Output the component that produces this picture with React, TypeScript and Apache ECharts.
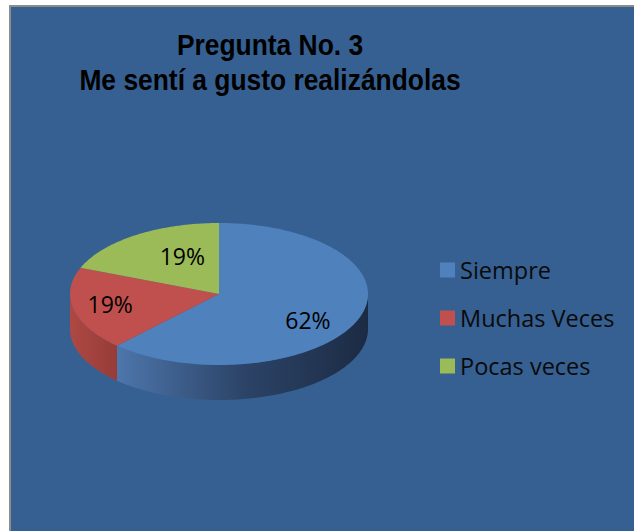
import React, { useEffect, useRef } from "react";
import * as echarts from "echarts";

const titleLines = ["Pregunta No. 3", "Me sentí a gusto realizándolas"];
const categories = ["Siempre", "Muchas Veces", "Pocas veces"];
const values = [62, 19, 19];

const topColors = ["#4F81BD", "#C0504D", "#9BBB59"];
const sideColors = [
  ["#4d76ab", "#2c4468", "#1c2b44"],
  ["#ae4843", "#a2423e", "#963c38"],
  ["#7d9a45", "#6f893c", "#627a35"],
];
// pixel nudges applied to the default label anchor of each slice
const labelNudge = [
  [-8, 8],
  [-7, -1],
  [22, 3],
];

const CX = 219;
const CY = 294;
const RX = 149;
const RY = 71;
const DEPTH = 35;

const total = values.reduce((a, b) => a + b, 0);

function pt(t: number, dz = 0): number[] {
  return [CX + RX * Math.sin(t), CY - RY * Math.cos(t) + dz];
}

function arc(a: number, b: number, dz = 0): number[][] {
  const pts: number[][] = [];
  const n = Math.max(2, Math.ceil(Math.abs(b - a) / (Math.PI / 180)));
  for (let i = 0; i <= n; i++) {
    pts.push(pt(a + ((b - a) * i) / n, dz));
  }
  return pts;
}

function makeRender(idx: number) {
  return (params: any, api: any) => {
    let acc = 0;
    for (let j = 0; j < idx; j++) acc += values[j];
    const v = api.value(0);
    const a0 = (acc / total) * Math.PI * 2;
    const a1 = ((acc + v) / total) * Math.PI * 2;
    const children: any[] = [];
    const s = Math.max(a0, Math.PI / 2);
    const e = Math.min(a1, (Math.PI * 3) / 2);
    if (e > s) {
      const pts = arc(s, e).concat(arc(e, s, DEPTH));
      const sc = sideColors[idx];
      children.push({
        type: "polygon",
        z2: 1,
        shape: { points: pts },
        style: {
          fill: new echarts.graphic.LinearGradient(1, 0, 0, 0, [
            { offset: 0, color: sc[2] },
            { offset: 0.5, color: sc[1] },
            { offset: 1, color: sc[0] },
          ]),
          stroke: null,
        },
      });
    }
    const topPts = [[CX, CY]].concat(arc(a0, a1));
    children.push({
      type: "polygon",
      z2: 2,
      shape: { points: topPts },
      style: { fill: topColors[idx], stroke: null },
    });
    const mid = (a0 + a1) / 2;
    const lp = [CX + 0.7 * RX * Math.sin(mid), CY - 0.7 * RY * Math.cos(mid)];
    children.push({
      type: "text",
      z2: 3,
      style: {
        text: Math.round((v / total) * 100) + "%",
        x: lp[0] + labelNudge[idx][0],
        y: lp[1] + labelNudge[idx][1],
        fill: "#000000",
        font: '23px "Open Sans"',
        align: "center",
        verticalAlign: "middle",
      },
    });
    return { type: "group", children };
  };
}

export default function App() {
  const ref = useRef<HTMLDivElement>(null);
  useEffect(() => {
    if (!ref.current) return;
    const chart = echarts.init(ref.current, undefined, { renderer: "svg" });
    chart.setOption({
      animation: false,
      backgroundColor: "#ffffff",
      color: topColors,
      graphic: [
        {
          type: "rect",
          z: -10,
          silent: true,
          shape: { x: 10, y: 6, width: 640, height: 540 },
          style: { fill: "#366092", stroke: "#8c8c8c", lineWidth: 2 },
        },
        {
          type: "text",
          z: 10,
          x: 270,
          y: 45,
          scaleX: 0.91,
          style: {
            text: titleLines[0],
            font: 'bold 29px "Liberation Sans", Arial, sans-serif',
            fill: "#000000",
            align: "center",
            verticalAlign: "middle",
          },
        },
        {
          type: "text",
          z: 10,
          x: 270,
          y: 80,
          scaleX: 0.91,
          style: {
            text: titleLines[1],
            font: 'bold 29px "Liberation Sans", Arial, sans-serif',
            fill: "#000000",
            align: "center",
            verticalAlign: "middle",
          },
        },
      ],
      legend: {
        orient: "vertical",
        left: 440,
        top: 257,
        padding: 0,
        itemWidth: 15,
        itemHeight: 15,
        itemGap: 22,
        icon: "rect",
        selectedMode: false,
        data: categories,
        textStyle: {
          fontFamily: "Open Sans",
          fontSize: 23.5,
          lineHeight: 26,
          color: "#0a0a0a",
        },
      },
      series: categories.map((name, i) => ({
        type: "custom",
        name,
        coordinateSystem: "none",
        silent: true,
        itemStyle: { color: topColors[i] },
        renderItem: makeRender(i),
        data: [[values[i]]],
      })),
    });
    return () => chart.dispose();
  }, []);
  return (
    <div
      ref={ref}
      style={{ position: "fixed", left: 0, top: 0, width: 634, height: 531 }}
    />
  );
}
